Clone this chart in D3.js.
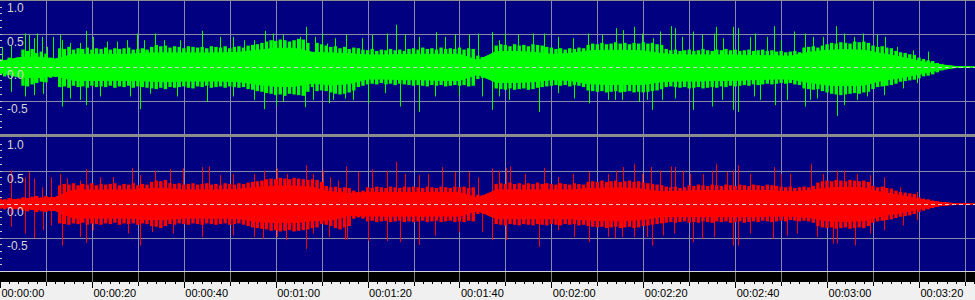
<!DOCTYPE html>
<html>
<head>
<meta charset="utf-8">
<script src="https://cdn.jsdelivr.net/npm/d3@7"></script>
<style>
  html, body { margin: 0; padding: 0; background: #f0f0f0; }
  svg { display: block; }
</style>
</head>
<body>
<svg id="chart"></svg>
<script>
// track length in seconds and ruler labels
const durationSec = 212.2;
const rulerLabels = ["00:00:00", "00:00:20", "00:00:40", "00:01:00", "00:01:20", "00:01:40",
    "00:02:00", "00:02:20", "00:02:40", "00:03:00", "00:03:20"];
const rulerLabelSec = [0, 20, 40, 60, 80, 100, 120, 140, 160, 180, 200];
const ampLabels = ["1.0", "0.5", "0.0", "-0.5"];
const ampLabelValues = [1, 0.5, 0, -0.5];

// solid core of the waveform, one value every 4 seconds (upper / lower magnitude)
const coreSec = [0,4,8,12,16,20,24,28,32,36,40,44,48,52,56,60,64,68,72,76,80,84,88,92,96,100,
    104,108,112,116,120,124,128,132,136,140,144,148,152,156,160,164,168,172,176,180,184,188,
    192,196,200,204,208,212];
const leftCoreHi = [0.08,0.14,0.15,0.12,0.19,0.19,0.19,0.19,0.21,0.21,0.21,0.21,0.21,0.22,
    0.25,0.28,0.28,0.22,0.21,0.20,0.18,0.18,0.19,0.19,0.19,0.19,0.10,0.23,0.23,0.22,0.19,0.20,
    0.24,0.25,0.25,0.24,0.20,0.18,0.18,0.18,0.18,0.17,0.17,0.16,0.22,0.25,0.26,0.25,0.20,0.15,
    0.09,0.04,0.008,0.005];
const leftCoreLo = [0.08,0.15,0.16,0.13,0.20,0.20,0.20,0.20,0.21,0.22,0.21,0.21,0.21,0.22,
    0.26,0.29,0.29,0.24,0.27,0.25,0.18,0.18,0.19,0.19,0.20,0.20,0.11,0.23,0.23,0.22,0.19,0.20,
    0.25,0.26,0.26,0.26,0.22,0.21,0.21,0.20,0.20,0.19,0.18,0.18,0.23,0.27,0.28,0.27,0.20,0.16,
    0.11,0.05,0.008,0.005];
const rightCoreHi = [0.05,0.07,0.08,0.10,0.21,0.21,0.21,0.21,0.23,0.23,0.21,0.21,0.21,0.22,
    0.25,0.27,0.27,0.25,0.18,0.16,0.17,0.17,0.17,0.17,0.17,0.17,0.09,0.21,0.21,0.21,0.21,0.21,
    0.23,0.24,0.24,0.22,0.18,0.19,0.20,0.20,0.20,0.20,0.20,0.18,0.20,0.24,0.25,0.24,0.17,0.13,
    0.07,0.03,0.006,0.005];
const rightCoreLo = [0.05,0.07,0.08,0.10,0.21,0.21,0.21,0.21,0.23,0.23,0.21,0.21,0.21,0.22,
    0.26,0.28,0.28,0.25,0.24,0.17,0.18,0.18,0.18,0.18,0.18,0.18,0.10,0.22,0.22,0.22,0.22,0.22,
    0.24,0.25,0.25,0.23,0.19,0.19,0.19,0.19,0.19,0.19,0.18,0.18,0.20,0.25,0.26,0.25,0.18,0.13,
    0.08,0.03,0.006,0.005];

// dense fringe of the waveform, one peak per second (upper peak / lower peak magnitude)
const leftHi = [
    0.12,0.10,0.14,0.10,0.12,0.26,0.24,0.27,0.21,0.23,
    0.20,0.14,0.12,0.28,0.27,0.30,0.26,0.28,0.27,0.29,
    0.26,0.28,0.27,0.29,0.26,0.28,0.27,0.28,0.29,0.26,
    0.27,0.28,0.26,0.30,0.33,0.31,0.32,0.29,0.31,0.30,
    0.28,0.31,0.30,0.29,0.30,0.28,0.31,0.30,0.29,0.31,
    0.28,0.30,0.31,0.29,0.32,0.33,0.34,0.36,0.38,0.40,
    0.39,0.41,0.40,0.38,0.40,0.42,0.41,0.36,0.22,0.36,
    0.34,0.32,0.30,0.31,0.28,0.30,0.27,0.29,0.28,0.26,
    0.25,0.27,0.24,0.26,0.25,0.27,0.25,0.26,0.24,0.27,
    0.28,0.26,0.29,0.27,0.28,0.26,0.29,0.27,0.28,0.27,
    0.29,0.26,0.28,0.27,0.17,0.15,0.16,0.08,0.32,0.34,
    0.33,0.31,0.34,0.32,0.33,0.31,0.34,0.33,0.32,0.30,
    0.29,0.27,0.28,0.26,0.28,0.27,0.29,0.28,0.33,0.35,
    0.34,0.36,0.34,0.35,0.37,0.35,0.36,0.34,0.36,0.35,
    0.37,0.35,0.36,0.34,0.33,0.27,0.25,0.26,0.24,0.25,
    0.26,0.24,0.25,0.27,0.25,0.24,0.26,0.25,0.27,0.25,
    0.26,0.24,0.25,0.26,0.24,0.25,0.26,0.24,0.25,0.23,
    0.24,0.22,0.23,0.24,0.22,0.29,0.30,0.31,0.29,0.32,
    0.34,0.36,0.35,0.37,0.36,0.35,0.38,0.37,0.38,0.36,
    0.32,0.30,0.31,0.29,0.28,0.24,0.22,0.21,0.19,0.18,
    0.14,0.12,0.10,0.09,0.06,0.04,0.03,0.02,0.01,0.005,
    0.005,0.005,0.005
];
const leftLo = [
    0.12,0.14,0.11,0.13,0.12,0.28,0.29,0.26,0.24,0.22,
    0.23,0.16,0.15,0.30,0.29,0.31,0.28,0.30,0.29,0.31,
    0.28,0.30,0.29,0.30,0.28,0.31,0.29,0.30,0.28,0.31,
    0.29,0.30,0.31,0.32,0.33,0.31,0.33,0.30,0.31,0.30,
    0.29,0.31,0.32,0.29,0.30,0.28,0.31,0.30,0.29,0.31,
    0.29,0.30,0.31,0.30,0.33,0.34,0.36,0.37,0.39,0.40,
    0.42,0.41,0.43,0.40,0.41,0.42,0.43,0.37,0.30,0.36,
    0.35,0.36,0.38,0.40,0.41,0.40,0.38,0.35,0.30,0.28,
    0.26,0.25,0.26,0.24,0.26,0.25,0.27,0.25,0.26,0.27,
    0.28,0.27,0.28,0.29,0.27,0.28,0.27,0.29,0.28,0.27,
    0.28,0.27,0.29,0.28,0.18,0.16,0.17,0.09,0.32,0.33,
    0.34,0.32,0.34,0.33,0.32,0.34,0.33,0.31,0.30,0.29,
    0.28,0.27,0.28,0.27,0.29,0.27,0.28,0.30,0.35,0.36,
    0.37,0.36,0.38,0.37,0.36,0.38,0.37,0.36,0.38,0.37,
    0.38,0.37,0.36,0.35,0.33,0.30,0.29,0.30,0.31,0.30,
    0.32,0.31,0.30,0.32,0.31,0.30,0.31,0.29,0.30,0.28,
    0.29,0.28,0.27,0.28,0.26,0.27,0.26,0.25,0.26,0.25,
    0.24,0.25,0.24,0.26,0.27,0.32,0.33,0.34,0.33,0.36,
    0.38,0.40,0.41,0.42,0.41,0.40,0.39,0.40,0.38,0.37,
    0.33,0.30,0.29,0.28,0.27,0.25,0.22,0.21,0.20,0.19,
    0.17,0.14,0.13,0.11,0.08,0.05,0.03,0.02,0.01,0.005,
    0.005,0.005,0.005
];
const rightHi = [
    0.08,0.07,0.09,0.07,0.08,0.10,0.09,0.11,0.12,0.10,
    0.12,0.10,0.09,0.28,0.30,0.29,0.31,0.28,0.30,0.29,
    0.31,0.28,0.30,0.29,0.30,0.31,0.28,0.30,0.29,0.31,
    0.28,0.30,0.29,0.33,0.35,0.34,0.36,0.31,0.30,0.31,
    0.29,0.30,0.31,0.29,0.30,0.31,0.29,0.30,0.28,0.31,
    0.30,0.29,0.31,0.30,0.32,0.33,0.34,0.35,0.37,0.38,
    0.37,0.39,0.38,0.37,0.39,0.38,0.37,0.36,0.37,0.36,
    0.33,0.27,0.25,0.26,0.24,0.25,0.24,0.20,0.18,0.20,
    0.25,0.24,0.26,0.25,0.24,0.26,0.25,0.24,0.26,0.25,
    0.26,0.25,0.24,0.26,0.25,0.24,0.26,0.25,0.24,0.26,
    0.25,0.26,0.24,0.25,0.14,0.13,0.14,0.12,0.30,0.31,
    0.30,0.32,0.30,0.31,0.29,0.31,0.30,0.32,0.30,0.31,
    0.30,0.29,0.31,0.30,0.29,0.31,0.30,0.29,0.33,0.34,
    0.33,0.35,0.33,0.34,0.35,0.33,0.34,0.35,0.33,0.34,
    0.32,0.31,0.30,0.29,0.28,0.26,0.25,0.26,0.24,0.25,
    0.28,0.27,0.29,0.28,0.27,0.29,0.28,0.27,0.29,0.28,
    0.27,0.29,0.28,0.27,0.29,0.28,0.27,0.29,0.28,0.27,
    0.26,0.25,0.26,0.24,0.25,0.26,0.25,0.27,0.32,0.34,
    0.35,0.34,0.36,0.35,0.34,0.36,0.35,0.34,0.35,0.33,
    0.27,0.25,0.26,0.24,0.23,0.20,0.18,0.17,0.16,0.15,
    0.10,0.08,0.07,0.05,0.04,0.03,0.02,0.01,0.005,0.005,
    0.005,0.005,0.005
];
const rightLo = [
    0.07,0.08,0.06,0.08,0.07,0.10,0.11,0.09,0.12,0.11,
    0.12,0.10,0.09,0.29,0.30,0.31,0.29,0.30,0.28,0.31,
    0.29,0.30,0.31,0.29,0.30,0.28,0.31,0.29,0.30,0.29,
    0.31,0.29,0.30,0.33,0.34,0.36,0.33,0.30,0.31,0.29,
    0.30,0.31,0.29,0.30,0.31,0.29,0.30,0.31,0.30,0.29,
    0.31,0.30,0.29,0.31,0.33,0.35,0.36,0.37,0.38,0.40,
    0.39,0.41,0.40,0.39,0.41,0.40,0.39,0.38,0.36,0.35,
    0.30,0.31,0.33,0.36,0.38,0.35,0.33,0.22,0.20,0.22,
    0.26,0.25,0.27,0.26,0.25,0.27,0.26,0.25,0.27,0.26,
    0.27,0.26,0.25,0.27,0.26,0.25,0.27,0.26,0.25,0.27,
    0.26,0.27,0.25,0.26,0.15,0.14,0.15,0.13,0.30,0.31,
    0.32,0.30,0.31,0.32,0.30,0.31,0.32,0.30,0.31,0.32,
    0.30,0.31,0.32,0.30,0.31,0.30,0.32,0.31,0.33,0.34,
    0.35,0.34,0.36,0.35,0.34,0.36,0.35,0.34,0.36,0.35,
    0.33,0.32,0.31,0.30,0.29,0.28,0.27,0.28,0.27,0.26,
    0.28,0.27,0.28,0.26,0.27,0.28,0.26,0.27,0.26,0.28,
    0.27,0.26,0.28,0.27,0.26,0.27,0.25,0.26,0.27,0.26,
    0.25,0.26,0.24,0.25,0.26,0.25,0.26,0.28,0.33,0.35,
    0.36,0.35,0.37,0.36,0.35,0.37,0.36,0.35,0.36,0.33,
    0.28,0.26,0.25,0.24,0.23,0.21,0.19,0.18,0.17,0.15,
    0.12,0.10,0.08,0.06,0.04,0.03,0.02,0.01,0.005,0.005,
    0.005,0.005,0.005
];

// isolated peaks sticking out of the body: [seconds, amplitude]
const leftPeaksUp = [
    [0.4,0.3],[2.5,0.32],[5.4,0.5],[6.4,0.48],[7.3,0.43],[8.0,0.5],[9.1,0.45],[10.2,0.3],
    [11.6,0.45],[13.1,0.48],[13.4,0.4],[15.2,0.36],[17.4,0.36],[18.7,0.54],[20.3,0.45],
    [23.2,0.38],[25.4,0.38],[27.6,0.4],[29.8,0.5],[31.3,0.4],[33.7,0.5],[35.6,0.4],[39.2,0.4],
    [43.9,0.54],[47.9,0.45],[50.8,0.45],[53.0,0.4],[55.2,0.4],[57.7,0.54],[59.5,0.5],
    [61.7,0.48],[65.3,0.45],[66.6,0.6],[68.6,0.45],[70.0,0.5],
    [71.1,0.35],[72.9,0.43],[75.2,0.48],[78.7,0.43],[81.0,0.48],[84.2,0.5],[86.1,0.63],
    [88.2,0.48],[91.1,0.45],[95.0,0.52],[96.9,0.45],[99.0,0.48],[102.0,0.48],[104.0,0.5],
    [107.0,0.52],[108.5,0.4],[110.0,0.5],[112.8,0.48],[116.1,0.5],[118.3,0.5],[121.5,0.45],
    [124.8,0.43],[127.9,0.5],[131.0,0.48],[134.0,0.58],[135.5,0.55],[137.9,0.6],[139.7,0.5],
    [142.2,0.43],[143.7,0.53],[146.0,0.61],[146.8,0.58],[148.4,0.45],[150.8,0.53],[152.7,0.48],
    [155.3,0.5],[155.8,0.6],[157.4,0.43],[159.5,0.6],[160.7,0.58],[163.3,0.45],[164.3,0.5],
    [166.9,0.45],[168.5,0.61],[169.9,0.4],[172.7,0.53],[175.2,0.5],[177.0,0.45],[179.2,0.45],
    [182.0,0.61],[183.6,0.5],[185.9,0.45],[187.9,0.5],[190.8,0.48],[192.6,0.45],[195.2,0.3],
    [198.8,0.25],[201.9,0.23]
];
const leftPeaksDown = [
    [2.5,0.37],[5.4,0.44],[7.3,0.42],[9.4,0.4],[13.6,0.59],[15.2,0.47],[17.4,0.49],[18.7,0.57],
    [21.8,0.44],[28.3,0.44],[30.5,0.63],[32.7,0.4],[38.5,0.44],[45.0,0.52],[50.8,0.44],
    [55.2,0.49],[57.5,0.63],[60.1,0.57],[61.7,0.52],[66.4,0.6],[68.2,0.49],
    [71.6,0.54],[72.5,0.49],[75.1,0.47],[76.9,0.49],[80.0,0.54],[83.8,0.39],[87.1,0.59],
    [91.1,0.67],[94.7,0.44],[99.8,0.42],[104.8,0.44],[107.0,0.64],[108.5,0.44],[110.7,0.49],
    [117.2,0.67],[121.5,0.39],[125.0,0.47],[128.1,0.54],[132.4,0.49],[133.9,0.49],[135.3,0.49],
    [139.0,0.52],[140.8,0.49],
    [141.8,0.64],[144.0,0.49],[146.8,0.47],[150.8,0.64],[154.9,0.59],[157.1,0.49],[159.5,0.64],
    [160.7,0.67],[164.0,0.44],[165.4,0.49],[168.7,0.57],[171.2,0.49],[175.2,0.59],[176.3,0.49],
    [177.8,0.47],[182.1,0.73],[183.6,0.57],[186.5,0.49],[188.7,0.44],[192.3,0.42],[196.6,0.32],
    [199.5,0.24]
];
const rightPeaksUp = [
    [2.5,0.5],[5.4,0.4],[6.4,0.48],[7.3,0.38],[9.1,0.25],[11.2,0.4],[13.1,0.45],[14.5,0.38],
    [17.4,0.35],[18.7,0.52],[21.8,0.4],[24.7,0.4],[28.7,0.54],[30.5,0.43],[33.7,0.5],[37.0,0.52],
    [39.9,0.53],[43.9,0.55],[45.4,0.56],[47.9,0.43],[50.8,0.45],[55.2,0.45],[57.5,0.5],
    [60.2,0.53],[62.4,0.45],[66.5,0.58],[68.2,0.45],[70.4,0.5],
    [71.8,0.4],[73.6,0.35],[75.2,0.56],[78.0,0.48],[81.0,0.52],[84.2,0.5],[86.1,0.63],
    [88.2,0.45],[91.1,0.43],[93.2,0.45],[96.1,0.55],[99.0,0.48],[102.1,0.48],[104.1,0.4],
    [107.0,0.53],[108.5,0.5],[110.1,0.54],[111.1,0.56],[114.3,0.45],[118.3,0.54],[121.5,0.4],
    [124.8,0.45],[128.1,0.48],[132.4,0.45],[134.0,0.5],[135.5,0.55],[137.9,0.6],[139.7,0.45],
    [141.7,0.55],[143.7,0.5],[146.0,0.56],[146.8,0.55],[148.7,0.5],[150.2,0.45],[153.1,0.45],
    [154.9,0.5],[155.8,0.6],[158.2,0.48],[159.5,0.5],[160.7,0.58],[163.3,0.45],[168.5,0.55],
    [169.9,0.45],[172.0,0.45],[176.5,0.6],[179.2,0.45],[182.1,0.5],[183.6,0.5],[186.5,0.45],
    [189.4,0.43],[192.3,0.4],[195.9,0.25],[199.5,0.18]
];
const rightPeaksDown = [
    [2.5,0.34],[5.4,0.44],[7.3,0.51],[9.4,0.39],[11.2,0.32],[13.6,0.62],[17.4,0.49],[18.7,0.58],
    [20.3,0.39],[27.9,0.44],[30.5,0.62],[33.0,0.42],[37.7,0.44],[43.9,0.49],[50.8,0.47],
    [55.2,0.49],[57.3,0.52],[60.2,0.49],[62.3,0.54],[66.5,0.67],[68.2,0.44],
    [71.6,0.49],[75.1,0.53],[75.5,0.53],[80.0,0.55],[84.2,0.55],[87.1,0.57],[91.1,0.61],
    [94.7,0.47],[99.8,0.42],[104.8,0.42],[107.0,0.54],[110.1,0.54],[117.2,0.64],[121.5,0.39],
    [125.0,0.49],[128.1,0.57],[132.4,0.49],[133.9,0.51],[135.3,0.49],[137.9,0.49],[140.8,0.49],
    [141.8,0.62],[144.4,0.47],[146.6,0.44],[150.8,0.57],[152.7,0.52],[155.3,0.49],[159.6,0.62],
    [160.7,0.62],[163.3,0.44],[168.3,0.52],[171.2,0.47],[173.4,0.44],[177.8,0.49],[181.4,0.59],
    [182.1,0.59],[186.1,0.62],[189.4,0.44],[192.3,0.39],[196.6,0.32],[199.5,0.24]
];

const width = 975, height = 300;
const navy = "#000080", grid = "#8a8aa6", gridDark = "#808080";

const svg = d3.select("#chart")
    .attr("width", width)
    .attr("height", height)
    .attr("viewBox", [0, 0, width, height]);

const x = d3.scaleLinear().domain([0, durationSec]).range([0, width]);

const channels = [
    {hi: leftHi, lo: leftLo, coreHi: leftCoreHi, coreLo: leftCoreLo,
        up: leftPeaksUp, down: leftPeaksDown, color: "#00ff00", top: true,
        y: d3.scaleLinear().domain([-1, 1]).range([134, 0])},
    {hi: rightHi, lo: rightLo, coreHi: rightCoreHi, coreLo: rightCoreLo,
        up: rightPeaksUp, down: rightPeaksDown, color: "#ff0000", top: false,
        y: d3.scaleLinear().domain([-1, 1]).range([271, 137])}
];

// frame: light ruler, separator, black strip
svg.append("rect").attr("width", width).attr("height", height).attr("fill", "#f0f0f0");
svg.append("rect").attr("x", 0).attr("y", 0).attr("width", width).attr("height", 272).attr("fill", "#8c8c8c");
svg.append("rect").attr("x", 0).attr("y", 272).attr("width", width).attr("height", 10).attr("fill", "#000");
svg.append("line").attr("x1", 0).attr("x2", width).attr("y1", 271.5).attr("y2", 271.5)
    .attr("stroke", "#d8d8d8");

const gridSec = d3.range(10, durationSec, 10);
const px = v => Math.round(x(v)) + 0.5;

for (let ch of channels) {
    let y = ch.y;
    let g = svg.append("g");
    g.append("rect")
        .attr("x", 0).attr("y", y(1) + (ch.top ? 1 : 0))
        .attr("width", width).attr("height", y(-1) - y(1) - (ch.top ? 1 : 0))
        .attr("fill", navy);

    g.selectAll("line.v").data(gridSec).join("line")
        .attr("x1", px).attr("x2", px)
        .attr("y1", y(1)).attr("y2", y(-1))
        .attr("stroke", grid);
    g.selectAll("line.h").data([0.5, -0.5]).join("line")
        .attr("x1", 0).attr("x2", width)
        .attr("y1", d => Math.round(y(d)) + 0.5).attr("y2", d => Math.round(y(d)) + 0.5)
        .attr("stroke", grid);

    // solid core
    let area = d3.area()
        .x((d, i) => x(coreSec[i]))
        .y0((d, i) => y(-ch.coreLo[i]))
        .y1(d => y(d));
    g.append("path")
        .datum(ch.coreHi)
        .attr("d", area)
        .attr("fill", ch.color)
        .attr("stroke", ch.color)
        .attr("stroke-width", 1);

    // one-second fringe columns
    g.selectAll("rect.fr").data(ch.hi).join("rect")
        .attr("x", (d, i) => x(i) - 1.7)
        .attr("width", 3.4)
        .attr("y", d => y(d))
        .attr("height", (d, i) => y(-ch.lo[i]) - y(d))
        .attr("fill", ch.color);

    g.selectAll("line.up").data(ch.up).join("line")
        .attr("x1", d => px(d[0])).attr("x2", d => px(d[0]))
        .attr("y1", y(0)).attr("y2", d => y(d[1]))
        .attr("stroke", ch.color).attr("stroke-width", 1);
    g.selectAll("line.down").data(ch.down).join("line")
        .attr("x1", d => px(d[0])).attr("x2", d => px(d[0]))
        .attr("y1", y(0)).attr("y2", d => y(-d[1]))
        .attr("stroke", ch.color).attr("stroke-width", 1);

    // dashed zero line
    g.append("line")
        .attr("x1", 0).attr("x2", width)
        .attr("y1", Math.round(y(0)) + 0.5).attr("y2", Math.round(y(0)) + 0.5)
        .attr("stroke", "#d0d0d0").attr("stroke-dasharray", "4,3");

    // small amplitude ticks on the left edge
    g.selectAll("line.tk").data(d3.range(-9, 10).map(d => d / 10)).join("line")
        .attr("x1", 0).attr("x2", 2)
        .attr("y1", d => Math.round(y(d)) + 0.5).attr("y2", d => Math.round(y(d)) + 0.5)
        .attr("stroke", "#c8c8c8");

    g.selectAll("text").data(ampLabels).join("text")
        .attr("x", 7)
        .attr("y", (d, i) => y(ampLabelValues[i]) + 12)
        .attr("fill", "#d4d4d4")
        .attr("font-family", "Liberation Sans, Arial, sans-serif")
        .attr("font-size", "12px")
        .text(d => d);
}

// grid lines through the black strip
svg.append("g").selectAll("line").data(gridSec).join("line")
    .attr("x1", px).attr("x2", px)
    .attr("y1", 272).attr("y2", 282)
    .attr("stroke", gridDark);

// time ruler
const ruler = svg.append("g").attr("transform", "translate(0,282)");
ruler.call(d3.axisBottom(x).tickValues(d3.range(0, durationSec, 2)).tickSize(2).tickFormat(""))
    .call(g => g.select(".domain").remove());
ruler.append("g")
    .call(d3.axisBottom(x).tickValues(gridSec.filter(d => d % 20 !== 0)).tickSize(4).tickFormat(""))
    .call(g => g.select(".domain").remove());
ruler.append("g")
    .call(d3.axisBottom(x).tickValues(rulerLabelSec).tickSize(6)
        .tickFormat((d, i) => rulerLabels[i]))
    .call(g => g.select(".domain").remove())
    .call(g => g.selectAll("text")
        .attr("text-anchor", "start")
        .attr("x", 1)
        .attr("y", 7)
        .attr("dy", "0.71em")
        .attr("fill", "#000")
        .attr("font-family", "Liberation Sans, Arial, sans-serif")
        .attr("font-size", "11px"));
ruler.selectAll(".tick line").attr("stroke", "#000").attr("shape-rendering", "crispEdges");
</script>
</body>
</html>
